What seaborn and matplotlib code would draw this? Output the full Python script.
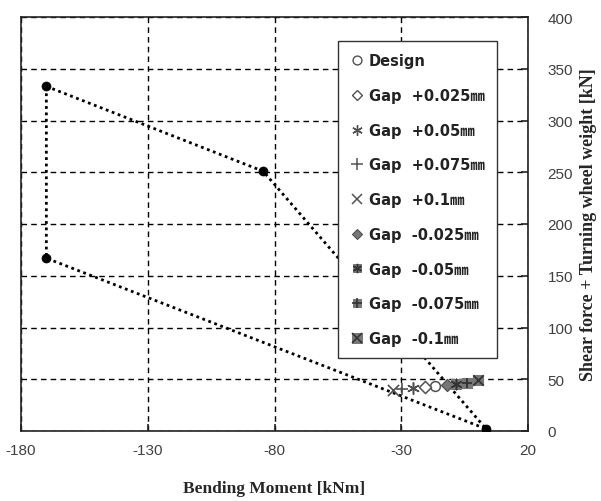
import matplotlib
matplotlib.use("Agg")
import matplotlib.pyplot as plt
import seaborn as sns
import pandas as pd

# Envelope polygon
env_x = [-170, -84.5, 3.5, -170, -170]
env_y = [333, 251, 2, 167, 333]

# Series
labels = ["Design", "Gap  +0.025㎜", "Gap  +0.05㎜", "Gap  +0.075㎜", "Gap  +0.1㎜",
          "Gap  -0.025㎜", "Gap  -0.05㎜", "Gap  -0.075㎜", "Gap  -0.1㎜"]
pts_x = [-16.7, -20.6, -25.4, -29.7, -33.3, -12.0, -8.4, -4.1, 0.3]
pts_y = [43.5, 42.5, 41.5, 40.6, 39.6, 44.4, 45.4, 46.4, 49.3]

x_ticks = [-180, -130, -80, -30, 20]
y_ticks = [0, 50, 100, 150, 200, 250, 300, 350, 400]

sns.set_style("white")
plt.rcParams["axes.unicode_minus"] = False
fig = plt.figure(figsize=(6.01, 5.02), dpi=100)
ax = fig.add_axes([21/601, 1-432/502, 507/601, 414/502])

env = pd.DataFrame({"x": env_x, "y": env_y})
sns.lineplot(data=env, x="x", y="y", sort=False, estimator=None, ax=ax,
             color="black", linestyle=(0, (1, 1.3)), linewidth=2.0, zorder=3)
sns.scatterplot(data=env.iloc[:4], x="x", y="y", ax=ax, color="black", s=42,
                edgecolor="black", zorder=4, legend=False)

ast = (6, 2, 0)
dark = "#505050"
fillc = "#777777"
# marker specs: list of layers (marker, facecolor, edgecolor, size, lw)
specs = [
    [("o", "white", dark, 50, 1.1)],
    [("D", "white", dark, 38, 1.1)],
    [(ast, dark, dark, 70, 1.1)],
    [("+", dark, dark, 80, 1.2)],
    [("x", dark, dark, 65, 1.2)],
    [("D", fillc, dark, 38, 0.9)],
    [("s", fillc, fillc, 50, 0.8), (ast, "#333333", "#333333", 55, 1.1)],
    [("s", fillc, fillc, 50, 0.8), ("+", "#333333", "#333333", 60, 1.3)],
    [("s", fillc, fillc, 60, 0.8), ("x", "#333333", "#333333", 55, 1.3)],
]

handles = []
for lab, xv, yv, sp in zip(labels, pts_x, pts_y, specs):
    hs = []
    for (m, fc, ec, s, lw) in sp:
        d = pd.DataFrame({"x": [xv], "y": [yv]})
        sns.scatterplot(data=d, x="x", y="y", ax=ax, marker=m, s=s,
                        color=fc, edgecolor=ec, linewidth=lw, zorder=5, legend=False)
        h = plt.Line2D([], [], linestyle="none", marker=m, markersize=s**0.5 * 0.9,
                       markerfacecolor=fc, markeredgecolor=ec, markeredgewidth=lw * 0.9)
        hs.append(h)
    handles.append(tuple(hs) if len(hs) > 1 else hs[0])

ax.set_xlim(-180, 20)
ax.set_ylim(0, 400)
ax.set_xticks(x_ticks)
ax.set_yticks(y_ticks)
ax.yaxis.tick_right()
ax.yaxis.set_label_position("right")
ax.grid(True, color="black", linestyle=(0, (4, 3)), linewidth=1.0)
ax.set_axisbelow(True)
for sp in ax.spines.values():
    sp.set_visible(True)
    sp.set_color("#222222")
    sp.set_linewidth(1.2)
ax.tick_params(axis="both", direction="in", length=5, width=1.2, color="#222222",
               labelsize=11, labelcolor="#404040", pad=6)
for t in ax.get_xticklabels() + ax.get_yticklabels():
    t.set_fontfamily("Liberation Sans")
ax.tick_params(axis="y", right=True, left=False, pad=14)
ax.tick_params(axis="x", bottom=True, pad=9)

ax.set_xlabel("Bending Moment [kNm]", fontfamily="Liberation Serif",
              fontweight="bold", fontsize=12.5, labelpad=16)
ax.set_ylabel("Shear force + Turning wheel weight [kN]", fontfamily="Liberation Serif",
              fontweight="bold", fontsize=13, labelpad=5)

leg = ax.legend(handles, labels, loc="upper left",
                bbox_to_anchor=((338-21)/507, (432-42)/414),
                prop={"family": ["DejaVu Sans", "Noto Sans CJK KR"], "weight": "bold", "size": 10.5},
                frameon=True, fancybox=False, edgecolor="#333333", framealpha=1,
                handlelength=0.9, handletextpad=0.35, labelspacing=1.35,
                borderpad=0.85, borderaxespad=0)
leg.get_frame().set_linewidth(1.0)
for t in leg.get_texts():
    t.set_color("#222222")

fig.savefig("out.png", dpi=100)
